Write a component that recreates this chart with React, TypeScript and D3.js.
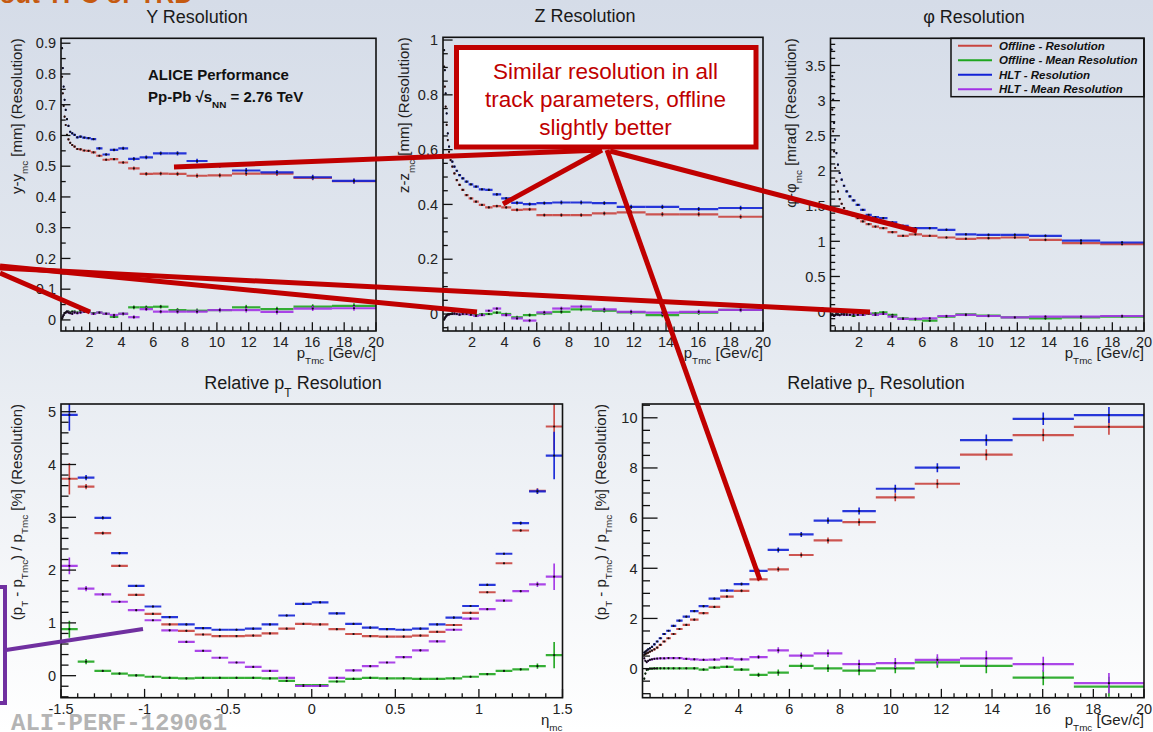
import React, { useEffect, useRef } from "react";
import * as d3 from "d3";

const W = 1153;
const H = 732;

// pT bin edges [GeV/c] (log binned in the original histograms)
const ptEdges = [0.25, 0.291, 0.338, 0.393, 0.458, 0.532, 0.619, 0.72, 0.838, 0.975, 1.134, 1.319, 1.534, 1.784, 2.075, 2.414, 2.808, 3.267, 3.8, 4.42, 5.141, 5.98, 6.956, 8.091, 9.412, 10.948, 12.735, 14.813, 17.231, 20];
const etaEdges = [-1.5, -1.4, -1.3, -1.2, -1.1, -1.0, -0.9, -0.8, -0.7, -0.6, -0.5, -0.4, -0.3, -0.2, -0.1, 0, 0.1, 0.2, 0.3, 0.4, 0.5, 0.6, 0.7, 0.8, 0.9, 1.0, 1.1, 1.2, 1.3, 1.4, 1.5];

const seriesNames = ["Offline - Resolution", "Offline - Mean Resolution", "HLT - Resolution", "HLT - Mean Resolution"];
const seriesColors = ["#c9443e", "#1fa61f", "#1222d6", "#a232e6"];

// Y resolution [mm]
const yOffRes = [0.791, 0.737, 0.696, 0.661, 0.634, 0.602, 0.587, 0.576, 0.569, 0.564, 0.556, 0.555, 0.551, 0.55, 0.545, 0.534, 0.521, 0.523, 0.512, 0.493, 0.475, 0.476, 0.475, 0.469, 0.47, 0.476, 0.476, 0.462, 0.451];
const yOffMean = [0.005, 0.011, 0.016, 0.022, 0.024, 0.027, 0.027, 0.024, 0.027, 0.027, 0.024, 0.03, 0.027, 0.027, 0.022, 0.024, 0.02, 0.01, 0.02, 0.041, 0.041, 0.043, 0.032, 0.03, 0.032, 0.041, 0.035, 0.043, 0.046];
const yHltRes = [0.884, 0.819, 0.759, 0.716, 0.683, 0.653, 0.631, 0.612, 0.607, 0.602, 0.594, 0.596, 0.593, 0.591, 0.588, 0.558, 0.538, 0.553, 0.558, 0.524, 0.529, 0.542, 0.542, 0.517, 0.502, 0.486, 0.48, 0.464, 0.452];
const yHltMean = [0.005, 0.011, 0.016, 0.022, 0.024, 0.027, 0.024, 0.022, 0.02, 0.024, 0.022, 0.024, 0.027, 0.027, 0.02, 0.024, 0.02, 0.016, 0.02, 0.009, 0.035, 0.027, 0.027, 0.027, 0.032, 0.032, 0.026, 0.037, 0.038];
const yErr = [0.002, 0.002, 0.002, 0.002, 0.002, 0.002, 0.002, 0.002, 0.002, 0.002, 0.002, 0.002, 0.002, 0.002, 0.003, 0.003, 0.004, 0.004, 0.005, 0.006, 0.006, 0.006, 0.007, 0.007, 0.007, 0.008, 0.008, 0.008, 0.008];

// Z resolution [mm]
const zOffRes = [0.903, 0.83, 0.757, 0.69, 0.635, 0.592, 0.562, 0.538, 0.513, 0.489, 0.471, 0.453, 0.434, 0.422, 0.41, 0.398, 0.389, 0.394, 0.389, 0.38, 0.382, 0.361, 0.361, 0.361, 0.367, 0.371, 0.364, 0.364, 0.355];
const zOffMean = [-0.02, -0.015, -0.01, -0.005, -0.002, 0, 0, 0.002, 0, 0, -0.002, 0, 0, 0, -0.004, -0.001, 0, 0.005, 0, -0.012, -0.004, 0.002, 0.008, 0.017, 0.012, 0.006, -0.004, 0.005, 0.015];
const zHltRes = [0.963, 0.89, 0.805, 0.732, 0.659, 0.611, 0.58, 0.556, 0.538, 0.523, 0.507, 0.495, 0.483, 0.473, 0.465, 0.455, 0.453, 0.437, 0.422, 0.406, 0.401, 0.405, 0.407, 0.407, 0.405, 0.391, 0.391, 0.383, 0.387];
const zHltMean = [-0.02, -0.015, -0.01, -0.006, -0.003, -0.002, 0, 0, 0.002, 0, -0.002, 0, 0, -0.003, -0.007, -0.004, 0.012, 0.02, -0.004, -0.016, -0.024, 0.006, 0.02, 0.027, 0.017, 0.008, 0.005, 0.008, 0.015];
const zErr = [0.002, 0.002, 0.002, 0.002, 0.002, 0.002, 0.002, 0.002, 0.002, 0.002, 0.002, 0.002, 0.002, 0.002, 0.003, 0.003, 0.004, 0.005, 0.005, 0.006, 0.006, 0.006, 0.007, 0.007, 0.007, 0.008, 0.008, 0.008, 0.008];

// phi resolution [mrad]
const phiOffRes = [3.205, 2.873, 2.564, 2.279, 2.042, 1.852, 1.709, 1.6, 1.534, 1.472, 1.424, 1.4, 1.363, 1.33, 1.282, 1.244, 1.21, 1.187, 1.13, 1.078, 1.1, 1.078, 1.054, 1.035, 1.045, 1.054, 1.021, 0.973, 0.959];
const phiOffMean = [-0.047, -0.033, -0.047, -0.062, -0.047, -0.024, -0.033, -0.047, -0.033, -0.024, -0.033, -0.047, -0.062, -0.047, -0.038, -0.033, -0.024, -0.01, -0.047, -0.095, -0.109, -0.128, -0.071, -0.038, -0.057, -0.081, -0.095, -0.081, -0.071];
const phiHltRes = [3.727, 3.348, 3.015, 2.683, 2.445, 2.255, 2.09, 1.971, 1.876, 1.79, 1.709, 1.638, 1.581, 1.519, 1.448, 1.377, 1.344, 1.33, 1.268, 1.22, 1.187, 1.187, 1.163, 1.1, 1.092, 1.092, 1.078, 1.011, 0.983];
const phiHltMean = [-0.05, -0.04, -0.05, -0.06, -0.05, -0.04, -0.045, -0.05, -0.04, -0.045, -0.047, -0.047, -0.033, -0.047, -0.047, -0.024, -0.047, -0.033, -0.071, -0.104, -0.104, -0.095, -0.062, -0.047, -0.062, -0.081, -0.071, -0.071, -0.062];
const phiErr = [0.008, 0.008, 0.008, 0.008, 0.008, 0.008, 0.008, 0.008, 0.008, 0.008, 0.008, 0.008, 0.008, 0.008, 0.01, 0.01, 0.012, 0.012, 0.014, 0.015, 0.016, 0.017, 0.018, 0.018, 0.02, 0.02, 0.02, 0.02, 0.02];

// relative pT resolution vs pT [%]
const ptOffRes = [0.55, 0.59, 0.61, 0.64, 0.68, 0.72, 0.77, 0.84, 0.95, 1.08, 1.21, 1.38, 1.58, 1.74, 1.95, 2.21, 2.46, 2.87, 3.1, 3.56, 3.96, 4.53, 5.11, 5.84, 6.83, 7.37, 8.53, 9.31, 9.64];
const ptOffMean = [-0.4, -0.2, -0.05, -0.03, 0, 0, 0.01, 0.01, 0.01, 0.01, 0.01, 0.01, 0.01, 0.01, 0.01, -0.04, 0.04, 0.07, -0.04, -0.25, -0.16, 0.11, 0.01, -0.08, 0.01, 0.25, 0.11, -0.36, -0.72];
const ptHltRes = [0.64, 0.68, 0.72, 0.77, 0.81, 0.87, 0.97, 1.08, 1.21, 1.38, 1.51, 1.7, 1.91, 2.07, 2.29, 2.49, 2.79, 3.11, 3.37, 3.9, 4.73, 5.35, 5.9, 6.28, 7.17, 8.01, 9.11, 9.96, 10.11];
const ptHltMean = [0.41, 0.31, 0.26, 0.31, 0.35, 0.37, 0.39, 0.4, 0.41, 0.41, 0.42, 0.42, 0.42, 0.39, 0.37, 0.35, 0.36, 0.41, 0.37, 0.46, 0.73, 0.52, 0.61, 0.175, 0.22, 0.35, 0.41, 0.175, -0.58];
const ptResErr = [0.02, 0.02, 0.02, 0.02, 0.02, 0.02, 0.02, 0.02, 0.02, 0.02, 0.02, 0.02, 0.03, 0.03, 0.03, 0.04, 0.04, 0.05, 0.06, 0.08, 0.1, 0.1, 0.12, 0.14, 0.16, 0.18, 0.22, 0.25, 0.32];
const ptMeanErr = [0.02, 0.02, 0.02, 0.02, 0.02, 0.02, 0.02, 0.02, 0.02, 0.02, 0.02, 0.02, 0.02, 0.02, 0.04, 0.04, 0.05, 0.05, 0.06, 0.08, 0.12, 0.12, 0.15, 0.18, 0.2, 0.22, 0.3, 0.3, 0.4];

// relative pT resolution vs eta [%]
const etaOffRes = [3.73, 3.58, 2.7, 2.08, 1.53, 1.17, 0.97, 0.85, 0.78, 0.75, 0.75, 0.76, 0.8, 0.89, 0.98, 0.97, 0.88, 0.79, 0.75, 0.74, 0.74, 0.76, 0.83, 0.96, 1.19, 1.58, 2.13, 2.75, 3.5, 4.72];
const etaOffMean = [0.88, 0.265, 0.09, 0.04, 0.005, -0.02, -0.04, -0.05, -0.04, -0.04, -0.04, -0.04, -0.05, -0.1, -0.18, -0.18, -0.11, -0.06, -0.04, -0.05, -0.05, -0.06, -0.06, -0.05, -0.02, 0.03, 0.09, 0.12, 0.18, 0.39];
const etaHltRes = [4.94, 3.75, 2.99, 2.32, 1.7, 1.31, 1.11, 0.97, 0.9, 0.87, 0.87, 0.89, 0.97, 1.14, 1.36, 1.39, 1.18, 0.98, 0.91, 0.88, 0.87, 0.89, 0.97, 1.1, 1.32, 1.72, 2.31, 2.89, 3.49, 4.17];
const etaHltMean = [2.08, 1.65, 1.54, 1.4, 1.24, 1.05, 0.86, 0.64, 0.47, 0.34, 0.25, 0.165, 0.09, -0.04, -0.195, -0.195, -0.04, 0.1, 0.18, 0.25, 0.35, 0.48, 0.65, 0.87, 1.08, 1.26, 1.42, 1.6, 1.73, 1.875];
const etaResErr = [0.3, 0.05, 0.03, 0.02, 0.02, 0.02, 0.02, 0.02, 0.02, 0.02, 0.02, 0.02, 0.02, 0.02, 0.02, 0.02, 0.02, 0.02, 0.02, 0.02, 0.02, 0.02, 0.02, 0.02, 0.02, 0.02, 0.02, 0.03, 0.05, 0.45];
const etaMeanErr = [0.16, 0.05, 0.02, 0.02, 0.02, 0.02, 0.02, 0.02, 0.02, 0.02, 0.02, 0.02, 0.02, 0.02, 0.02, 0.02, 0.02, 0.02, 0.02, 0.02, 0.02, 0.02, 0.02, 0.02, 0.02, 0.02, 0.02, 0.02, 0.05, 0.25];

type Part = [string, number];
const ptTitle: Part[] = [["p", 0], ["Tmc", 1], [" [Gev/c]", 0]];
const relTitle: Part[] = [["(p", 0], ["T", 1], [" - p", 0], ["Tmc", 1], [") / p", 0], ["Tmc", 1], [" [%] (Resolution)", 0]];

const panels = [
  { x0: 61, x1: 376, y0: 38.3, y1: 331, xd: [0.2, 20], yd: [-0.036, 0.916], xMajor: 2, xMinor: 0.5, yMajor: 0.1, yMinor: 0.05,
    edges: ptEdges, series: [yOffRes, yOffMean, yHltRes, yHltMean], errRes: yErr, errMean: yErr,
    title: [["Y Resolution", 0]] as Part[], tx: 197, yTitle: [["y-y", 0], ["mc", 1], [" [mm] (Resolution)", 0]] as Part[], ytx: 22, xTitle: ptTitle },
  { x0: 443, x1: 763, y0: 37.3, y1: 331, xd: [0.2, 20], yd: [-0.062, 1.01], xMajor: 2, xMinor: 0.5, yMajor: 0.2, yMinor: 0.05,
    edges: ptEdges, series: [zOffRes, zOffMean, zHltRes, zHltMean], errRes: zErr, errMean: zErr,
    title: [["Z Resolution", 0]] as Part[], tx: 585, yTitle: [["z-z", 0], ["mc", 1], [" [mm] (Resolution)", 0]] as Part[], ytx: 409, xTitle: ptTitle },
  { x0: 830.5, x1: 1144, y0: 38.3, y1: 331, xd: [0.2, 20], yd: [-0.275, 3.886], xMajor: 2, xMinor: 0.5, yMajor: 0.5, yMinor: 0.1,
    edges: ptEdges, series: [phiOffRes, phiOffMean, phiHltRes, phiHltMean], errRes: phiErr, errMean: phiErr,
    title: [["φ Resolution", 0]] as Part[], tx: 974, yTitle: [["φ-φ", 0], ["mc", 1], [" [mrad] (Resolution)", 0]] as Part[], ytx: 796, xTitle: ptTitle },
  { x0: 61, x1: 562.5, y0: 404, y1: 697.7, xd: [-1.5, 1.5], yd: [-0.417, 5.146], xMajor: 0.5, xMinor: 0.1, yMajor: 1, yMinor: 0.2,
    edges: etaEdges, series: [etaOffRes, etaOffMean, etaHltRes, etaHltMean], errRes: etaResErr, errMean: etaMeanErr,
    title: [["Relative p", 0], ["T", 1], [" Resolution", 0]] as Part[], tx: 293, yTitle: relTitle, ytx: 22, xTitle: [["η", 0], ["mc", 1]] as Part[] },
  { x0: 642.5, x1: 1144, y0: 404, y1: 697.7, xd: [0.2, 20], yd: [-1.16, 10.55], xMajor: 2, xMinor: 0.5, yMajor: 2, yMinor: 0.5,
    edges: ptEdges, series: [ptOffRes, ptOffMean, ptHltRes, ptHltMean], errRes: ptResErr, errMean: ptMeanErr,
    title: [["Relative p", 0], ["T", 1], [" Resolution", 0]] as Part[], tx: 876, yTitle: relTitle, ytx: 606, xTitle: ptTitle },
];

const FONT = "'Liberation Sans', Arial, Helvetica, sans-serif";

function tickVals(d: number[], step: number) {
  const a = Math.ceil(d[0] / step - 1e-9);
  const b = Math.floor(d[1] / step + 1e-9);
  return d3.range(a, b + 1).map((k) => +(k * step).toFixed(6));
}

function rich(t: any, parts: Part[], size: number) {
  const subSize = size * 0.66;
  const subDy = size * 0.42;
  let cur = 0;
  parts.forEach(([s, sub]) => {
    const target = sub ? subDy : 0;
    t.append("tspan").attr("font-size", sub ? subSize : size).attr("dy", target - cur).text(s);
    cur = target;
  });
}

export default function App() {
  const ref = useRef<SVGSVGElement>(null);

  useEffect(() => {
    const svg = d3.select(ref.current);
    svg.selectAll("*").remove();

    const defs = svg.append("defs");
    const grad = defs.append("linearGradient").attr("id", "bg").attr("x1", 0).attr("y1", 0).attr("x2", 0).attr("y2", 1);
    grad.append("stop").attr("offset", "0").attr("stop-color", "#d5dce8");
    grad.append("stop").attr("offset", "0.45").attr("stop-color", "#e4e9f0");
    grad.append("stop").attr("offset", "0.75").attr("stop-color", "#f3f5f8");
    grad.append("stop").attr("offset", "1").attr("stop-color", "#ffffff");
    svg.append("rect").attr("width", W).attr("height", H).attr("fill", "url(#bg)");

    // slide heading, cut at the top
    svg.append("text").attr("x", 193).attr("y", 3).attr("text-anchor", "end")
      .attr("font-family", FONT).attr("font-weight", "bold").attr("font-size", 26).attr("fill", "#c55a11")
      .text("HLT tracking without TPC or TRD");

    panels.forEach((p, pi) => {
      const g = svg.append("g").attr("font-family", FONT).style("white-space", "pre");
      const x = d3.scaleLinear().domain(p.xd).range([p.x0, p.x1]);
      const y = d3.scaleLinear().domain(p.yd).range([p.y1, p.y0]);
      const fw = p.x1 - p.x0;
      const fh = p.y1 - p.y0;

      defs.append("clipPath").attr("id", "clip" + pi).append("rect")
        .attr("x", p.x0).attr("y", p.y0).attr("width", fw).attr("height", fh);

      // title
      rich(g.append("text").attr("x", p.tx).attr("y", p.y0 - 15).attr("text-anchor", "middle").attr("fill", "#1a1a1a"), p.title, 18);

      // data
      const plot = g.append("g").attr("clip-path", `url(#clip${pi})`);
      p.series.forEach((vals, k) => {
        const col = seriesColors[k];
        const errs = k % 2 === 0 ? p.errRes : p.errMean;
        const gs = plot.append("g");
        const mid = (i: number) => x((p.edges[i] + p.edges[i + 1]) / 2);
        gs.selectAll(null).data(vals).enter().append("line")
          .attr("x1", (d, i) => x(p.edges[i])).attr("x2", (d, i) => x(p.edges[i + 1]))
          .attr("y1", (d) => y(d)).attr("y2", (d) => y(d))
          .attr("stroke", col).attr("stroke-width", 2.2).attr("stroke-opacity", 0.9);
        gs.selectAll(null).data(vals).enter().append("line")
          .attr("x1", (d, i) => mid(i)).attr("x2", (d, i) => mid(i))
          .attr("y1", (d, i) => y(d - errs[i])).attr("y2", (d, i) => y(d + errs[i]))
          .attr("stroke", col).attr("stroke-width", 1.6);
        gs.selectAll(null).data(vals).enter().append("circle")
          .attr("cx", (d, i) => mid(i)).attr("cy", (d) => y(d)).attr("r", 1.1).attr("fill", "#111");
      });

      // frame
      g.append("rect").attr("x", p.x0).attr("y", p.y0).attr("width", fw).attr("height", fh)
        .attr("fill", "none").attr("stroke", "#111").attr("stroke-width", 1.6);

      // y ticks (inside)
      const yt = fw * 0.03;
      const yMaj = tickVals(p.yd, p.yMajor);
      const yMin = tickVals(p.yd, p.yMinor).filter((v) => !yMaj.some((m) => Math.abs(m - v) < 1e-6));
      g.selectAll(null).data(yMaj).enter().append("line")
        .attr("x1", p.x0).attr("x2", p.x0 + yt).attr("y1", (d) => y(d)).attr("y2", (d) => y(d))
        .attr("stroke", "#111").attr("stroke-width", 1.3);
      g.selectAll(null).data(yMin).enter().append("line")
        .attr("x1", p.x0).attr("x2", p.x0 + yt / 2).attr("y1", (d) => y(d)).attr("y2", (d) => y(d))
        .attr("stroke", "#111").attr("stroke-width", 1.3);
      g.selectAll(null).data(yMaj).enter().append("text")
        .attr("x", p.x0 - 5).attr("y", (d) => y(d)).attr("dy", "0.36em").attr("text-anchor", "end")
        .attr("font-size", 14.5).attr("fill", "#222").text((d) => String(d));

      // x ticks (inside)
      const xt = fh * 0.03;
      const xMaj = tickVals(p.xd, p.xMajor);
      const xMin = tickVals(p.xd, p.xMinor).filter((v) => !xMaj.some((m) => Math.abs(m - v) < 1e-6));
      g.selectAll(null).data(xMaj).enter().append("line")
        .attr("x1", (d) => x(d)).attr("x2", (d) => x(d)).attr("y1", p.y1).attr("y2", p.y1 - xt)
        .attr("stroke", "#111").attr("stroke-width", 1.3);
      g.selectAll(null).data(xMin).enter().append("line")
        .attr("x1", (d) => x(d)).attr("x2", (d) => x(d)).attr("y1", p.y1).attr("y2", p.y1 - xt / 2)
        .attr("stroke", "#111").attr("stroke-width", 1.3);
      g.selectAll(null).data(xMaj).enter().append("text")
        .attr("x", (d) => x(d)).attr("y", p.y1 + 16).attr("text-anchor", "middle")
        .attr("font-size", 14.5).attr("fill", "#222").text((d) => String(d));

      // axis titles
      rich(g.append("text").attr("x", p.x1).attr("y", p.y1 + 27).attr("text-anchor", "end").attr("fill", "#222"), p.xTitle, 15);
      rich(g.append("text").attr("transform", `translate(${p.ytx},${p.y0}) rotate(-90)`).attr("text-anchor", "end").attr("fill", "#222"), p.yTitle, 15);
    });

    // legend in the phi panel
    const lg = svg.append("g").attr("font-family", FONT);
    lg.append("rect").attr("x", 951).attr("y", 38.3).attr("width", 193).attr("height", 58.4)
      .attr("fill", "none").attr("stroke", "#111").attr("stroke-width", 1.5);
    seriesNames.forEach((name, k) => {
      const ry = 45.7 + k * 14.5;
      lg.append("line").attr("x1", 958).attr("x2", 992).attr("y1", ry).attr("y2", ry)
        .attr("stroke", seriesColors[k]).attr("stroke-width", 2);
      lg.append("text").attr("x", 999).attr("y", ry + 4).attr("font-size", 11.5)
        .attr("font-weight", "bold").attr("font-style", "italic").attr("fill", "#111").text(name);
    });

    // ALICE label
    const al = svg.append("g").attr("font-family", FONT).attr("font-weight", "bold").attr("fill", "#111").style("white-space", "pre");
    al.append("text").attr("x", 148).attr("y", 80).attr("font-size", 15).text("ALICE Performance");
    rich(al.append("text").attr("x", 148).attr("y", 102), [["Pp-Pb √s", 0], ["NN", 1], [" = 2.76 TeV", 0]], 15);

    // annotation lines
    const red = "#c00000";
    const ann = svg.append("g").attr("stroke", red).attr("stroke-width", 5).attr("stroke-linecap", "butt");
    const segs = [
      [602, 150, 174, 167], [602, 150, 503, 204], [610, 151, 917, 231], [607, 150, 760, 580],
      [0, 273, 90, 312], [0, 266, 477, 312], [0, 268, 870, 312],
    ];
    segs.forEach((s) => ann.append("line").attr("x1", s[0]).attr("y1", s[1]).attr("x2", s[2]).attr("y2", s[3]));

    svg.append("rect").attr("x", 456.5).attr("y", 47.5).attr("width", 299.5).attr("height", 99.5)
      .attr("fill", "#ffffff").attr("stroke", red).attr("stroke-width", 5);
    const ct = svg.append("g").attr("font-family", FONT).attr("font-size", 22.5).attr("fill", red).attr("text-anchor", "middle");
    ["Similar resolution in all", "track parameters, offline", "slightly better"].forEach((s, i) => {
      ct.append("text").attr("x", 605.5).attr("y", 78.5 + i * 28).text(s);
    });

    // purple callout (box mostly off the slide)
    const pu = "#7030a0";
    svg.append("rect").attr("x", -30).attr("y", 587).attr("width", 35).attr("height", 116)
      .attr("fill", "none").attr("stroke", pu).attr("stroke-width", 4);
    svg.append("line").attr("x1", 6).attr("y1", 650).attr("x2", 143).attr("y2", 629)
      .attr("stroke", pu).attr("stroke-width", 4);

    svg.append("text").attr("x", 11).attr("y", 730).attr("font-family", "'Liberation Mono', 'Courier New', monospace")
      .attr("font-weight", "bold").attr("font-size", 24).attr("fill", "#b4b4b4").text("ALI-PERF-129061");
  }, []);

  return (
    <svg ref={ref} width={W} height={H} style={{ position: "absolute", left: 0, top: 0 }} />
  );
}
